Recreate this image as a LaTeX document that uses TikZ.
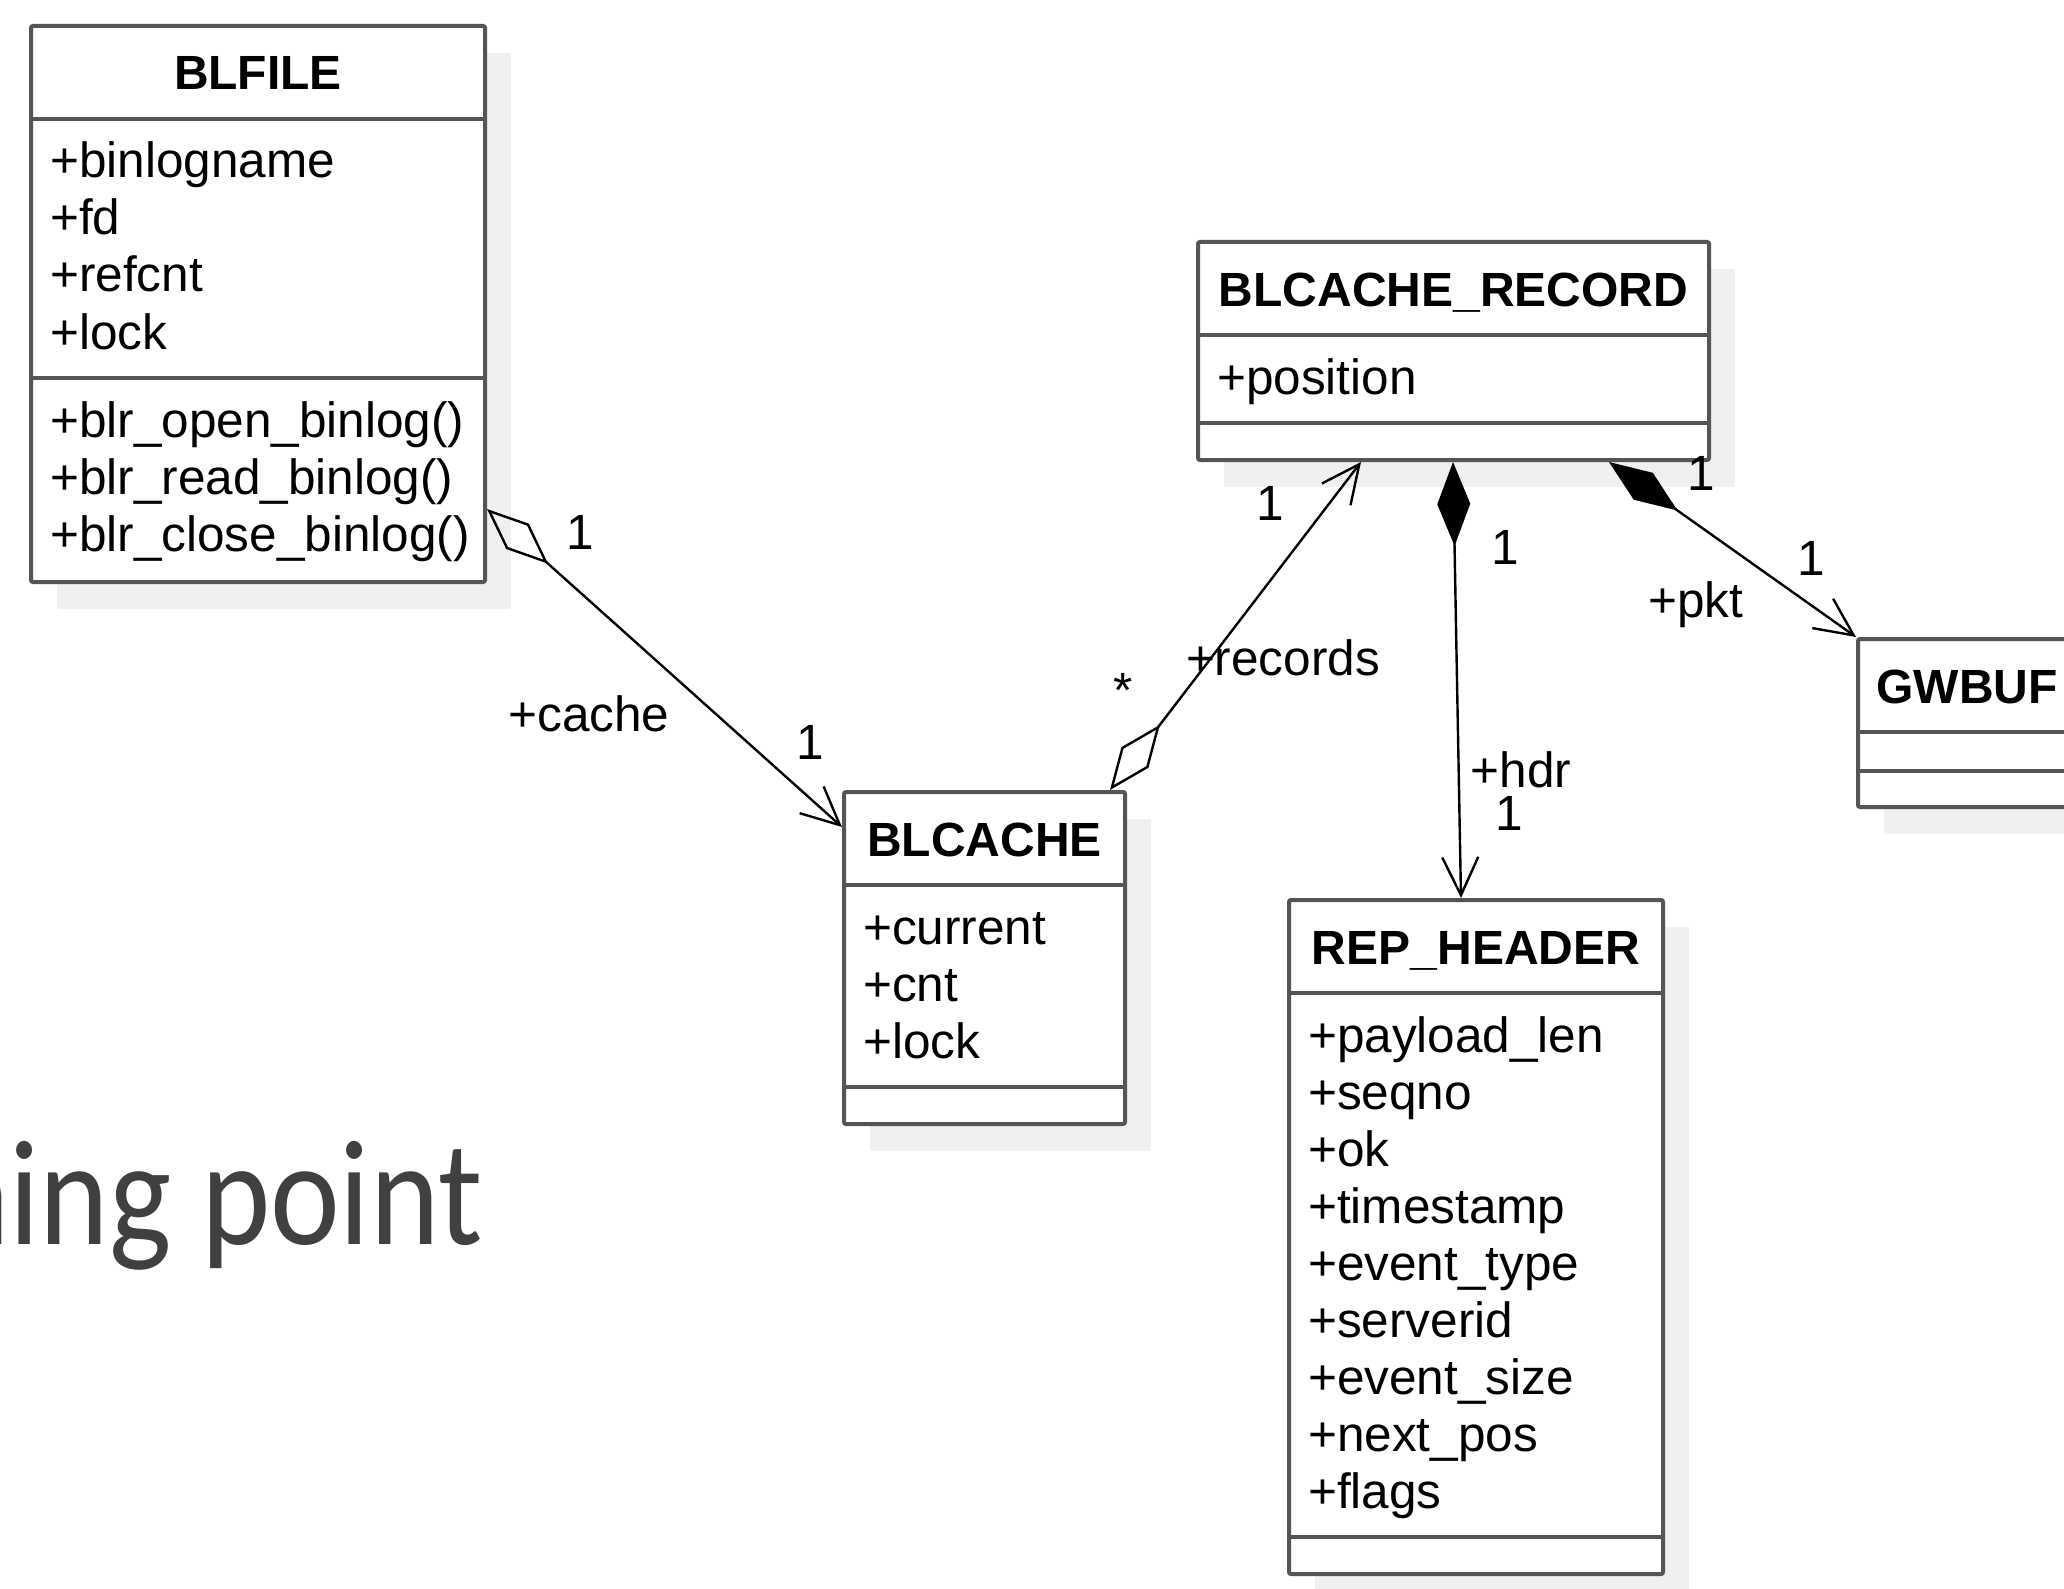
\documentclass[tikz,border=0pt]{standalone}
\usepackage{fontspec}
\setmainfont{Liberation Sans}
\newfontfamily\slidefont[FakeStretch=0.88]{Carlito}
\usetikzlibrary{arrows.meta,shadows}

\definecolor{boxc}{HTML}{555555}
\definecolor{shadowc}{HTML}{F0F0F0}
\definecolor{slidetext}{HTML}{404040}

\tikzset{
  classbox/.style={draw=boxc, line width=4pt, fill=white, rounded corners=2pt,
    inner sep=0pt, anchor=north west,
    general shadow={fill=shadowc, shadow xshift=26pt, shadow yshift=-27pt}},
  sepline/.style={draw=boxc, line width=4pt},
  classname/.style={font=\fontsize{48}{57}\selectfont\bfseries, anchor=base, inner sep=0pt},
  member/.style={font=\fontsize{49.5}{57}\selectfont, anchor=base west, inner sep=0pt},
  rolelabel/.style={font=\fontsize{49.5}{57}\selectfont, inner sep=0pt},
  assoc/.style={draw=black, line width=2.4pt},
  aggregation/.style={assoc, {Diamond[open,length=82pt,width=34pt]}-{Straight Barb[length=38pt,width=36pt]}},
  composition/.style={assoc, {Diamond[length=84pt,width=33pt]}-{Straight Barb[length=38pt,width=36pt]}}
}

% horizontal compartment separator, #2 = distance below the top edge
\newcommand\umlsep[2]{\draw[sepline] ([yshift=-#2pt]#1.north west) -- ([yshift=-#2pt]#1.north east);}
% list of members, #2 = baseline of the first entry below the top edge
\newcommand\umlmembers[3]{%
  \foreach \m [count=\i from 0] in {#3}
    \node[member] (#1-m#2-\i) at ([xshift=21pt,yshift={-(#2)-57*\i}]#1.north west) {\m};}

\begin{document}
\begin{tikzpicture}[x=1pt,y=-1pt]
\fill[white] (0,0) rectangle (2064,1589);
\useasboundingbox (0,0) rectangle (2064,1589);

% slide title behind the diagram
\node[font={\slidefont\fontsize{150}{160}\selectfont}, text=slidetext,
      anchor=base west, inner sep=0pt] (slidetitle) at (-60,1244) {ning point};

% ---- BLFILE ----
\node[classbox, minimum width=454pt, minimum height=556pt] (blfile) at (29,24) {};
\node[classname] (blfile-name) at ([yshift=-66pt]blfile.north) {BLFILE};
\umlsep{blfile}{95}
\umlsep{blfile}{354}
\umlmembers{blfile}{154}{+binlogname,+fd,+refcnt,+lock}
\umlmembers{blfile}{413}{+blr\_open\_binlog(),+blr\_read\_binlog(),+blr\_close\_binlog()}

% ---- BLCACHE_RECORD ----
\node[classbox, minimum width=511pt, minimum height=218pt] (blrec) at (1196,240) {};
\node[classname] (blrec-name) at ([yshift=-66pt]blrec.north) {BLCACHE\_RECORD};
\umlsep{blrec}{95}
\umlsep{blrec}{183}
\umlmembers{blrec}{154}{+position}

% ---- BLCACHE ----
\node[classbox, minimum width=281pt, minimum height=332pt] (blcache) at (842,790) {};
\node[classname] (blcache-name) at ([yshift=-66pt]blcache.north) {BLCACHE};
\umlsep{blcache}{95}
\umlsep{blcache}{297}
\umlmembers{blcache}{154}{+current,+cnt,+lock}

% ---- REP_HEADER ----
\node[classbox, minimum width=374pt, minimum height=674pt] (rephdr) at (1287,898) {};
\node[classname] (rephdr-name) at ([yshift=-66pt]rephdr.north) {REP\_HEADER};
\umlsep{rephdr}{95}
\umlsep{rephdr}{639}
\umlmembers{rephdr}{154}{+payload\_len,+seqno,+ok,+timestamp,+event\_type,+serverid,+event\_size,+next\_pos,+flags}

% ---- GWBUF ----
\node[classbox, minimum width=218pt, minimum height=168pt] (gwbuf) at (1856,637) {};
\node[classname] (gwbuf-name) at ([yshift=-66pt]gwbuf.north) {GWBUF};
\umlsep{gwbuf}{95}
\umlsep{gwbuf}{134}

% ---- associations ----
\draw[aggregation] (blfile.east |- 0,509) -- (blcache.west |- 0,827);
\draw[aggregation] (blcache.north -| 1110,0) -- (blrec.south -| 1361,0);
\draw[composition] (blrec.south -| 1453,0) -- (rephdr.north -| 1461,0);
\draw[composition] (blrec.south -| 1609,0) -- (gwbuf.north west);

% ---- role names and multiplicities ----
\node[rolelabel] (cache-m1) at (580,532) {1};
\node[rolelabel] (cache-role) at (589,714) {+cache};
\node[rolelabel] (cache-m2) at (810,742) {1};
\node[rolelabel] (rec-m1) at (1123,690) {*};
\node[rolelabel] (rec-role) at (1283,658) {+records};
\node[rolelabel] (rec-m2) at (1270,503) {1};
\node[rolelabel] (hdr-m1) at (1505,547) {1};
\node[rolelabel] (hdr-role) at (1521,770) {+hdr};
\node[rolelabel] (hdr-m2) at (1509,813) {1};
\node[rolelabel] (pkt-m1) at (1701,473) {1};
\node[rolelabel] (pkt-m2) at (1811,558) {1};
\node[rolelabel] (pkt-role) at (1696,605) {+pkt};
\end{tikzpicture}
\end{document}
